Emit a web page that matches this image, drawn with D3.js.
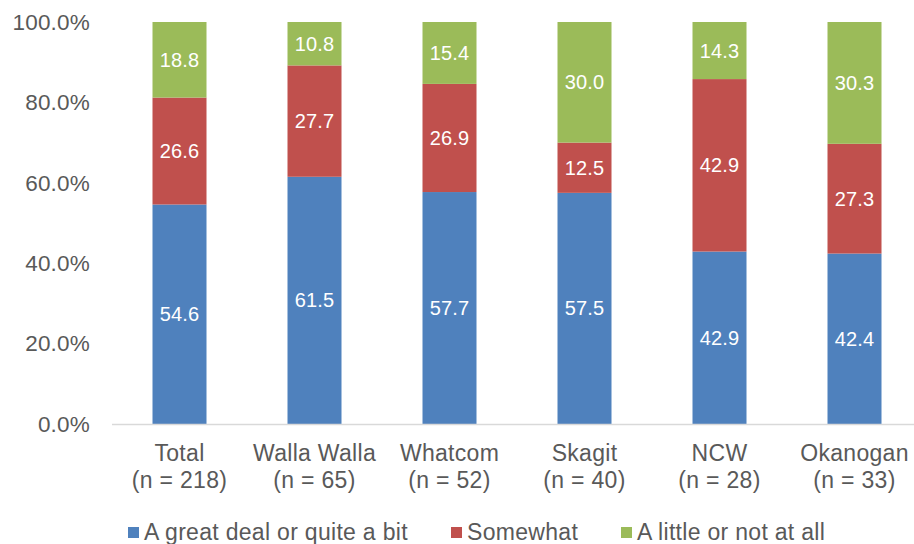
<!DOCTYPE html>
<html>
<head>
<meta charset="utf-8">
<script src="https://cdn.jsdelivr.net/npm/d3@7"></script>
<style>
  body { margin: 0; background: #fff; }
  svg text { font-family: "Liberation Sans", Arial, sans-serif; }
</style>
</head>
<body>
<div id="chart"></div>
<script>
"use strict";

var categories = ["Total", "Walla Walla", "Whatcom", "Skagit", "NCW", "Okanogan"];
var sampleSizes = ["(n = 218)", "(n = 65)", "(n = 52)", "(n = 40)", "(n = 28)", "(n = 33)"];
var seriesNames = ["A great deal or quite a bit", "Somewhat", "A little or not at all"];
var greatDeal = [54.6, 61.5, 57.7, 57.5, 42.9, 42.4];
var somewhat = [26.6, 27.7, 26.9, 12.5, 42.9, 27.3];
var littleNone = [18.8, 10.8, 15.4, 30.0, 14.3, 30.3];
var yTicks = [0, 20, 40, 60, 80, 100];
var colors = ["#4F81BD", "#C0504D", "#9BBB59"];

var width = 914, height = 544;

var svg = d3.select("#chart")
            .append("svg")
            .attr("width", width)
            .attr("height", height);

// build table for stacking
var table = categories.map(function(c, i) {
  return { cat: c, s0: greatDeal[i], s1: somewhat[i], s2: littleNone[i] };
});
var stacked = d3.stack().keys(["s0", "s1", "s2"])(table);

var x = d3.scaleBand()
    .domain(categories)
    .range([112, 922])
    .paddingInner(0.6)
    .paddingOuter(0.3);

var y = d3.scaleLinear()
    .domain([0, 100])
    .range([424, 22]);

// y tick labels
svg.append("g")
  .selectAll("text")
  .data(yTicks)
  .enter().append("text")
    .attr("x", 90)
    .attr("y", function(d) { return y(d); })
    .attr("dy", "0.35em")
    .attr("text-anchor", "end")
    .style("font-size", "22.5px")
    .style("letter-spacing", "0.2px")
    .style("fill", "#595959")
    .text(function(d) { return d3.format(".1f")(d) + "%"; });

// bars
var layers = svg.append("g")
  .selectAll("g")
  .data(stacked)
  .enter().append("g")
    .style("fill", function(d, i) { return colors[i]; });

layers.selectAll("rect")
  .data(function(d) { return d; })
  .enter().append("rect")
    .attr("x", function(d) { return x(d.data.cat); })
    .attr("width", x.bandwidth())
    .attr("y", function(d) { return y(Math.min(d[1], 100)); })
    .attr("height", function(d) { return y(d[0]) - y(Math.min(d[1], 100)); });

// value labels
layers.selectAll("text")
  .data(function(d) { return d.map(function(p) { return { p: p, key: d.key }; }); })
  .enter().append("text")
    .attr("x", function(d) { return x(d.p.data.cat) + x.bandwidth() / 2; })
    .attr("y", function(d) { return y((d.p[0] + Math.min(d.p[1], 100)) / 2); })
    .attr("dy", "0.35em")
    .attr("text-anchor", "middle")
    .style("font-size", "20px")
    .style("letter-spacing", "0.2px")
    .style("fill", "#fff")
    .text(function(d) { return d3.format(".1f")(d.p.data[d.key]); });

// x axis line
svg.append("line")
    .attr("x1", 112)
    .attr("x2", width)
    .attr("y1", y(0) + 0.5)
    .attr("y2", y(0) + 0.5)
    .style("stroke", "#D9D9D9")
    .style("stroke-width", 1.5);

// category labels
var catLabels = svg.append("g")
  .selectAll("text")
  .data(categories)
  .enter().append("text")
    .attr("text-anchor", "middle")
    .style("font-size", "23px")
    .style("letter-spacing", "0.3px")
    .style("fill", "#595959");
catLabels.append("tspan")
    .attr("x", function(d) { return x(d) + x.bandwidth() / 2; })
    .attr("y", 461)
    .text(function(d) { return d; });
catLabels.append("tspan")
    .attr("x", function(d) { return x(d) + x.bandwidth() / 2; })
    .attr("y", 488)
    .text(function(d, i) { return sampleSizes[i]; });

// legend
var legendX = [128, 451, 621];
var legend = svg.append("g")
  .selectAll("g")
  .data(seriesNames)
  .enter().append("g")
    .attr("transform", function(d, i) { return "translate(" + legendX[i] + ",527)"; });
legend.append("rect")
    .attr("width", 11)
    .attr("height", 11)
    .style("fill", function(d, i) { return colors[i]; });
legend.append("text")
    .attr("x", 16)
    .attr("y", 13)
    .style("font-size", "23px")
    .style("letter-spacing", "0.3px")
    .style("fill", "#595959")
    .text(function(d) { return d; });
</script>
</body>
</html>
